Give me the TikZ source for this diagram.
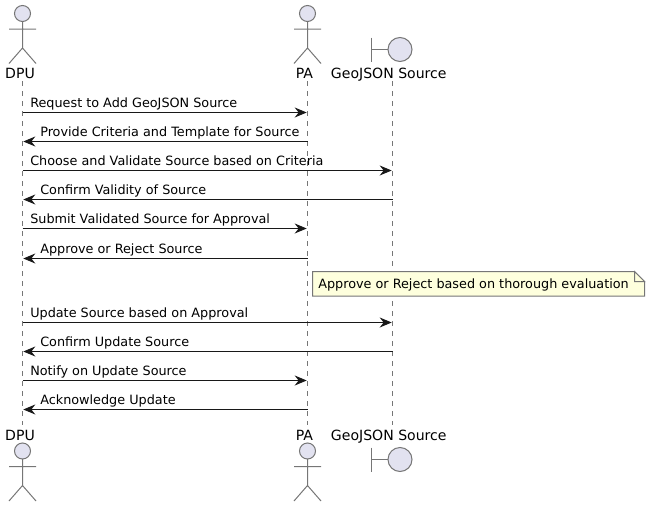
\documentclass[tikz,border=0pt]{standalone}
\usepackage{fontspec}
\setmainfont{DejaVu Sans}
\usetikzlibrary{arrows.meta}
\definecolor{actorfill}{HTML}{E2E2F0}
\definecolor{actorline}{HTML}{767676}
\definecolor{notefill}{HTML}{FEFFDD}
\definecolor{msgline}{HTML}{181818}
\tikzset{
  x=0.75pt,y=-0.75pt,
  lifeline/.style={draw=actorline,line width=0.75pt,dash pattern=on 3.75pt off 3.75pt},
  shapeline/.style={draw=actorline,line width=0.75pt},
  headfill/.style={shapeline,fill=actorfill},
  msg/.style={draw=msgline,line width=0.75pt,-{Stealth[length=9pt,width=7.5pt,inset=3pt,color=msgline]},shorten >=0.6pt},
  msgtext/.style={anchor=base west,inner sep=0pt,font=\fontsize{9.6pt}{12pt}\selectfont,text=black},
  parttext/.style={anchor=base,inner sep=0pt,font=\fontsize{10.55pt}{13pt}\selectfont,text=black},
  notebody/.style={shapeline,fill=notefill},
}
\newcommand{\actorfig}[2]{%
  \draw[headfill] (#1,#2) circle[radius=8];
  \draw[shapeline] (#1,#2+8) -- (#1,#2+34.5)
    (#1-13.5,#2+15.5) -- (#1+13.5,#2+15.5)
    (#1-13.5,#2+50) -- (#1,#2+34.5) -- (#1+13.5,#2+50);
}
\newcommand{\boundfig}[1]{%
  \draw[shapeline] (371.5,#1-12) -- (371.5,#1+12) (371.5,#1) -- (388,#1);
  \draw[headfill] (400,#1) circle[radius=12];
}
\begin{document}
\begin{tikzpicture}
\useasboundingbox (0,0) rectangle (650,507);
% lifeline ends
\coordinate (dtop) at (22.5,81);
\coordinate (dbot) at (22.5,425);
\coordinate (ptop) at (307.5,81);
\coordinate (pbot) at (307.5,425);
\coordinate (gtop) at (392.5,81);
\coordinate (gbot) at (392.5,425);
\draw[lifeline] (dtop) -- (dbot);
\draw[lifeline] (ptop) -- (pbot);
\draw[lifeline] (gtop) -- (gbot);
% participants
\actorfig{22.5}{13.5}
\actorfig{307.5}{13.5}
\boundfig{49.5}
\node[parttext] (dpuT) at (20,78) {DPU};
\node[parttext] (paT) at (304.5,78) {PA};
\node[parttext] (geoT) at (388.8,78) {GeoJSON Source};
\actorfig{22.5}{451}
\actorfig{307.5}{451}
\boundfig{459.5}
\node[parttext] (dpuB) at (20,440) {DPU};
\node[parttext] (paB) at (304.5,440) {PA};
\node[parttext] (geoB) at (388.8,440) {GeoJSON Source};
% message anchors
\foreach \n/\y in {1/112.5,2/141.5,3/170.5,4/199.5,5/228.5,6/258.5,7/322.5,8/351.5,9/380.5,10/409.5}{
  \coordinate (d\n) at (22.5,\y);
  \coordinate (p\n) at (307.5,\y);
  \coordinate (g\n) at (392.5,\y);
}
\draw[msg] (d1) -- (p1);
\draw[msg] (p2) -- (d2);
\draw[msg] (d3) -- (g3);
\draw[msg] (g4) -- (d4);
\draw[msg] (d5) -- (p5);
\draw[msg] (p6) -- (d6);
\draw[msg] (d7) -- (g7);
\draw[msg] (g8) -- (d8);
\draw[msg] (d9) -- (p9);
\draw[msg] (p10) -- (d10);
\node[msgtext] (t1) at (30,107.5) {Request to Add GeoJSON Source};
\node[msgtext] (t2) at (40,136.5) {Provide Criteria and Template for Source};
\node[msgtext] (t3) at (30,165.5) {Choose and Validate Source based on Criteria};
\node[msgtext] (t4) at (40,194.5) {Confirm Validity of Source};
\node[msgtext] (t5) at (30,223.5) {Submit Validated Source for Approval};
\node[msgtext] (t6) at (40,253.5) {Approve or Reject Source};
\node[msgtext] (t7) at (30,317.5) {Update Source based on Approval};
\node[msgtext] (t8) at (40,346.5) {Confirm Update Source};
\node[msgtext] (t9) at (30,375.5) {Notify on Update Source};
\node[msgtext] (t10) at (40,404.5) {Acknowledge Update};
% note
\draw[notebody] (312.5,271.5) -- (634.5,271.5) -- (644.5,281.5) -- (644.5,296) -- (312.5,296) -- cycle;
\draw[notebody] (634.5,271.5) -- (634.5,281.5) -- (644.5,281.5) -- cycle;
\node[msgtext] (noteT) at (318,288) {Approve or Reject based on thorough evaluation};
\end{tikzpicture}
\end{document}
